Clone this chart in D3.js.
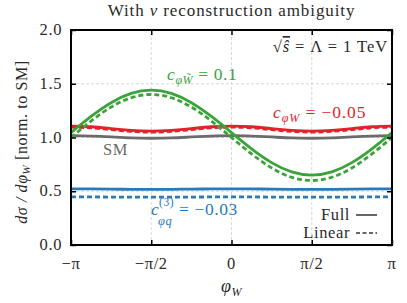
<!DOCTYPE html>
<html>
<head>
<meta charset="utf-8">
<script src="https://cdnjs.cloudflare.com/ajax/libs/d3/7.8.5/d3.min.js"></script>
<style>
  body { margin: 0; background: #fff; }
  svg text, svg tspan { font-family: "Liberation Serif" !important; }
</style>
</head>
<body>
<div id="chart"></div>
<script>
// ---- data, phi = -pi .. pi in steps of pi/8 ----
var phiSteps = d3.range(17); // k -> phi = -pi + k*pi/8
var smFull      = [1.017, 1.013, 1.005, 0.996, 0.993, 0.996, 1.005, 1.013, 1.017, 1.013, 1.005, 0.996, 0.993, 0.996, 1.005, 1.013, 1.017];
var cwFull      = [1.106, 1.100, 1.083, 1.067, 1.060, 1.067, 1.083, 1.100, 1.106, 1.100, 1.083, 1.067, 1.060, 1.067, 1.083, 1.100, 1.106];
var cwLinear    = [1.096, 1.090, 1.073, 1.057, 1.050, 1.057, 1.073, 1.090, 1.096, 1.090, 1.073, 1.057, 1.050, 1.057, 1.073, 1.090, 1.096];
var cwtFull     = [1.045, 1.196, 1.324, 1.410, 1.440, 1.410, 1.324, 1.196, 1.045, 0.894, 0.766, 0.680, 0.650, 0.680, 0.766, 0.894, 1.045];
var cwtLinear   = [1.000, 1.153, 1.283, 1.370, 1.400, 1.370, 1.283, 1.153, 1.000, 0.847, 0.717, 0.630, 0.600, 0.630, 0.717, 0.847, 1.000];
var cq3Full     = [0.523, 0.522, 0.520, 0.518, 0.517, 0.518, 0.520, 0.522, 0.523, 0.522, 0.520, 0.518, 0.517, 0.518, 0.520, 0.522, 0.523];
var cq3Linear   = [0.447, 0.447, 0.446, 0.446, 0.445, 0.446, 0.446, 0.447, 0.447, 0.447, 0.446, 0.446, 0.445, 0.446, 0.446, 0.447, 0.447];
var xTicks      = [-Math.PI, -Math.PI / 2, 0, Math.PI / 2, Math.PI];
var xTickLabels = ["\u2212\u03c0", "\u2212\u03c0/2", "0", "\u03c0/2", "\u03c0"];
var yTicks      = [0, 0.5, 1.0, 1.5, 2.0];

var width = 407, height = 303;
var margin = {left: 71, right: 15, top: 30, bottom: 58};

var svg = d3.select("#chart").append("svg")
    .attr("width", width)
    .attr("height", height);

// serif text helper (CM-like look)
function serif(sel, size) {
  return sel.style("font-family", "Liberation Serif")
    .attr("font-size", size)
    .attr("letter-spacing", 0.6);
}

var x = d3.scaleLinear()
    .domain([-Math.PI, Math.PI])
    .range([margin.left, width - margin.right]);
var y = d3.scaleLinear()
    .domain([0, 2])
    .range([height - margin.bottom, margin.top]);

var phis = phiSteps.map(k => -Math.PI + k * Math.PI / 8);

// grid
svg.append("g").selectAll("line")
    .data(xTicks.slice(1, -1))
    .enter().append("line")
    .attr("x1", d => x(d)).attr("x2", d => x(d))
    .attr("y1", y(0)).attr("y2", y(2))
    .attr("stroke", "#cfcfcf").attr("stroke-width", 0.8)
    .attr("stroke-dasharray", "3,2");
svg.append("g").selectAll("line")
    .data(yTicks.slice(1, -1))
    .enter().append("line")
    .attr("x1", x(-Math.PI)).attr("x2", x(Math.PI))
    .attr("y1", d => y(d)).attr("y2", d => y(d))
    .attr("stroke", "#cfcfcf").attr("stroke-width", 0.8)
    .attr("stroke-dasharray", "3,2");

// curves
var line = d3.line()
    .x((d, i) => x(phis[i]))
    .y(d => y(d))
    .curve(d3.curveNatural);

var series = [
  {v: smFull,    c: "#6b6b6b", dash: null},
  {v: cq3Full,   c: "#2a7ab9", dash: null},
  {v: cq3Linear, c: "#2a7ab9", dash: "5,3"},
  {v: cwFull,    c: "#e4212b", dash: null},
  {v: cwLinear,  c: "#e4212b", dash: "5,3"},
  {v: cwtLinear, c: "#3aa33a", dash: "5,3"},
  {v: cwtFull,   c: "#3aa33a", dash: null}
];

svg.append("clipPath").attr("id", "clip")
    .append("rect")
    .attr("x", x(-Math.PI)).attr("y", y(2))
    .attr("width", x(Math.PI) - x(-Math.PI))
    .attr("height", y(0) - y(2));

svg.append("g").attr("clip-path", "url(#clip)")
    .selectAll("path")
    .data(series)
    .enter().append("path")
    .attr("d", d => line(d.v))
    .attr("fill", "none")
    .attr("stroke", d => d.c)
    .attr("stroke-width", 2.8)
    .attr("stroke-dasharray", d => d.dash);

// frame + inward ticks
var tickLen = 5;
var axB = d3.axisBottom(x).tickValues(xTicks).tickSize(-tickLen).tickFormat(() => "");
var axT = d3.axisTop(x).tickValues(xTicks).tickSize(-tickLen).tickFormat(() => "");
var axL = d3.axisLeft(y).tickValues(yTicks).tickSize(-tickLen).tickFormat(() => "");
var axR = d3.axisRight(y).tickValues(yTicks).tickSize(-tickLen).tickFormat(() => "");
[[axB, "translate(0," + y(0) + ")"], [axT, "translate(0," + y(2) + ")"],
 [axL, "translate(" + x(-Math.PI) + ",0)"], [axR, "translate(" + x(Math.PI) + ",0)"]]
  .forEach(function(a) {
    var g = svg.append("g").attr("transform", a[1]).call(a[0]);
    g.select(".domain").remove();
    g.selectAll("text").remove();
    g.selectAll(".tick line").attr("stroke", "#000").attr("stroke-width", 1.5);
  });

svg.append("rect")
    .attr("x", x(-Math.PI)).attr("y", y(2))
    .attr("width", x(Math.PI) - x(-Math.PI))
    .attr("height", y(0) - y(2))
    .attr("fill", "none").attr("stroke", "#000").attr("stroke-width", 2);

// tick labels
serif(svg.append("g").selectAll("text")
    .data(xTicks)
    .enter().append("text"), 16.5)
    .attr("x", d => x(d)).attr("y", y(0) + 24)
    .attr("text-anchor", "middle").attr("fill", "#2a2a2a")
    .text((d, i) => xTickLabels[i]);
serif(svg.append("g").selectAll("text")
    .data(yTicks)
    .enter().append("text"), 16.5)
    .attr("x", x(-Math.PI) - 9).attr("y", d => y(d) + 5)
    .attr("text-anchor", "end").attr("fill", "#2a2a2a")
    .text(d => d.toFixed(1));

// title
serif(svg.append("text"), 17)
    .attr("x", (x(-Math.PI) + x(Math.PI)) / 2).attr("y", 16)
    .attr("letter-spacing", 0.9)
    .attr("text-anchor", "middle").attr("fill", "#2a2a2a")
    .html('With <tspan font-style="italic">\u03bd</tspan> reconstruction ambiguity');

// axis labels
serif(svg.append("text"), 18)
    .attr("x", (x(-Math.PI) + x(Math.PI)) / 2).attr("y", 292)
    .attr("text-anchor", "middle").attr("fill", "#2a2a2a")
    .html('<tspan font-style="italic">\u03c6</tspan><tspan font-style="italic" font-size="12" dy="4">W</tspan>');

serif(svg.append("text"), 16)
    .attr("transform", "translate(27," + 142 + ") rotate(-90)")
    .attr("text-anchor", "middle").attr("fill", "#2a2a2a")
    .html('<tspan font-style="italic">d\u03c3 / d\u03c6</tspan><tspan font-style="italic" font-size="11" dy="3">W</tspan><tspan dy="-3"> [norm. to SM]</tspan>');

// annotation top right
serif(svg.append("text"), 16.5)
    .attr("x", x(Math.PI) - 4).attr("y", y(2) + 22)
    .attr("letter-spacing", 0.9)
    .attr("text-anchor", "end").attr("fill", "#2a2a2a")
    .html('\u221a<tspan font-style="italic" style="text-decoration: overline">\u015d</tspan> = \u039b = 1 TeV');

// curve labels
serif(svg.append("text"), 17.5)
    .attr("x", 167).attr("y", 80)
    .attr("fill", "#3aa33a")
    .html('<tspan font-style="italic">c</tspan><tspan font-style="italic" font-size="12" dy="4">\u03c6W\u0303</tspan><tspan dy="-4"> = 0.1</tspan>');

serif(svg.append("text"), 17.5)
    .attr("x", 273).attr("y", 118)
    .attr("letter-spacing", 0.9)
    .attr("fill", "#e4212b")
    .html('<tspan font-style="italic">c</tspan><tspan font-style="italic" font-size="12" dy="4">\u03c6W</tspan><tspan dy="-4"> = \u22120.05</tspan>');

serif(svg.append("text"), 16.5)
    .attr("x", 103).attr("y", 155)
    .attr("fill", "#6b6b6b")
    .text("SM");

// blue label built from separate pieces (super/subscript stacked)
var blue = svg.append("g").attr("fill", "#2a7ab9");
serif(blue.append("text"), 17.5).attr("x", 151).attr("y", 215)
    .attr("font-style", "italic").text("c");
serif(blue.append("text"), 11.5).attr("x", 159).attr("y", 206).text("(3)");
serif(blue.append("text"), 12.5).attr("x", 158).attr("y", 225)
    .attr("font-style", "italic").text("\u03c6q");
serif(blue.append("text"), 17.5).attr("x", 179).attr("y", 215).text("= \u22120.03");

// legend
var lg = svg.append("g");
var legendItems = [{t: "Full", dash: null}, {t: "Linear", dash: "4,2.5"}];
serif(lg.selectAll("text")
    .data(legendItems)
    .enter().append("text"), 16.5)
    .attr("x", 350).attr("y", (d, i) => 220 + i * 18)
    .attr("text-anchor", "end").attr("fill", "#2a2a2a")
    .text(d => d.t);
lg.selectAll("line")
    .data(legendItems)
    .enter().append("line")
    .attr("x1", 356).attr("x2", 377)
    .attr("y1", (d, i) => 215 + i * 18).attr("y2", (d, i) => 215 + i * 18)
    .attr("stroke", "#666").attr("stroke-width", 2)
    .attr("stroke-dasharray", d => d.dash);
</script>
</body>
</html>
